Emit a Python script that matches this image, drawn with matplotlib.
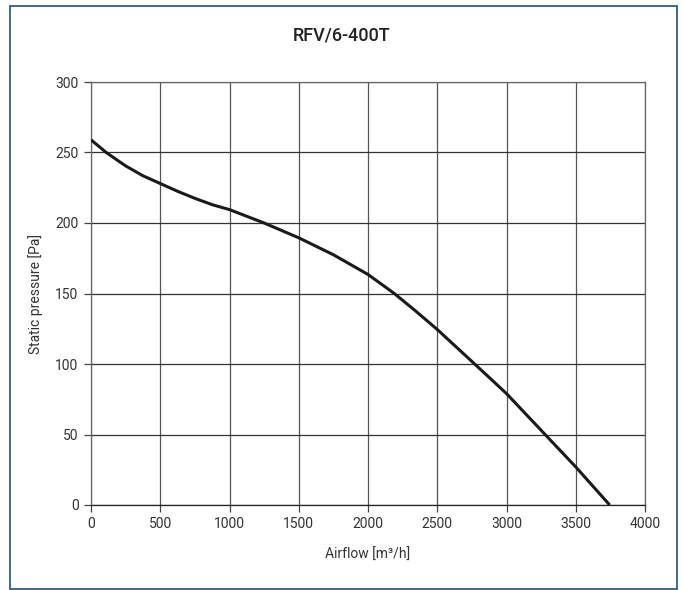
import matplotlib.pyplot as plt
from matplotlib.patches import Rectangle

# curve
airflow = [0, 110, 250, 375, 500, 625, 750, 875, 1000, 1250, 1500, 1750, 2000,
           2190, 2345, 2500, 2770, 2880, 3000, 3250, 3500, 3745]
pressure = [259, 250, 240.5, 233.5, 228, 222.5, 217.5, 213, 209.5, 200, 189.5, 177.5, 163.5,
            150, 137.5, 124.5, 100, 90, 79, 53, 27, 0]

x_ticks = [0, 500, 1000, 1500, 2000, 2500, 3000, 3500, 4000]
y_ticks = [0, 50, 100, 150, 200, 250, 300]

plt.rcParams["font.family"] = ["Roboto", "DejaVu Sans"]

fig = plt.figure(figsize=(6.83, 5.90), dpi=100)
ax = fig.add_axes([91 / 683, 1 - 505 / 590, 554 / 683, 423 / 590])

ax.plot(airflow, pressure, color="#1a1a1a", linewidth=2.2, zorder=3,
        solid_joinstyle="round", solid_capstyle="butt")

ax.set_xlim(0, 4000)
ax.set_ylim(0, 300)
ax.set_xticks(x_ticks)
ax.set_yticks(y_ticks)
ax.xaxis.grid(True, color="#555555", linewidth=0.9)
ax.yaxis.grid(True, color="#333333", linewidth=0.9)
ax.tick_params(direction="out", length=5, width=0.9, color="#444444",
               labelsize=10, labelcolor="#333333", pad=4)
for side in ["top", "right", "left"]:
    ax.spines[side].set_color("#666666")
    ax.spines[side].set_linewidth(0.9)
ax.spines["bottom"].set_color("#222222")
ax.spines["bottom"].set_linewidth(0.9)

ax.set_xlabel("Airflow [m³/h]", fontsize=10, color="#333333", labelpad=12)
ax.set_ylabel("Static pressure [Pa]", fontsize=10, color="#333333", labelpad=9)
fig.text(0.5, 1 - 36 / 590, "RFV/6-400T", ha="center", va="center",
         fontsize=13, fontweight="medium", color="#222222")

# blue frame round the figure
fig.patches.append(Rectangle((9.5 / 683, 1 / 590), 667.5 / 683, 583.5 / 590,
                             transform=fig.transFigure, fill=False,
                             edgecolor="#1f4f85", linewidth=1.2))

fig.savefig("out.png", dpi=100)
